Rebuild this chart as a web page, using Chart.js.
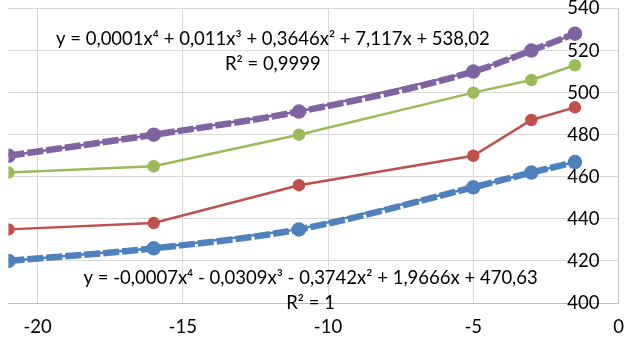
<!DOCTYPE html>
<html>
<head>
<meta charset="utf-8">
<script src="https://cdn.jsdelivr.net/npm/chart.js@4.4.1/dist/chart.umd.min.js"></script>
<style>
  html, body { margin: 0; padding: 0; background: #fff; }
  #wrap { width: 627px; height: 338px; }
</style>
</head>
<body>
<div id="wrap"><canvas id="chart"></canvas></div>
<script>
// x positions shared by all four series
const xValues = [-21, -16, -11, -5, -3, -1.5];

const purpleValues = [470, 480, 491, 510, 520, 528];
const greenValues = [462, 465, 480, 500, 506, 513];
const redValues = [435, 438, 456, 470, 487, 493];
const blueValues = [420, 426, 435, 455, 462, 467];

const xTicks = [-20, -15, -10, -5, 0];
const yTicks = [400, 420, 440, 460, 480, 500, 520, 540];

const purpleEquation = ['y = 0,0001x⁴ + 0,011x³ + 0,3646x² + 7,117x + 538,02', 'R² = 0,9999'];
const blueEquation = ['y = -0,0007x⁴ - 0,0309x³ - 0,3742x² + 1,9666x + 470,63', 'R² = 1'];

const PURPLE = '#8064A2';
const GREEN = '#9BBB59';
const RED = '#C0504D';
const BLUE = '#4F81BD';
const FONT = '18.5px Lato';

function toPoints(values) {
    return values.map((v, i) => ({ x: xValues[i], y: v }));
}

function seriesLine(values, color, width, radius) {
    return {
        data: toPoints(values),
        borderColor: color,
        backgroundColor: color,
        borderWidth: width,
        pointRadius: radius,
        pointHoverRadius: radius,
        showLine: true,
        tension: 0
    };
}

// polynomial trendline drawn as a smooth dashed curve through the points
function trendLine(values, color) {
    return {
        data: toPoints(values),
        borderColor: color,
        borderWidth: 6.5,
        borderDash: [16, 3],
        pointRadius: 0,
        showLine: true,
        cubicInterpolationMode: 'monotone'
    };
}

// tick labels drawn by hand: y labels sit inside the plot, left of the axis at x = 0
const tickLabels = {
    id: 'tickLabels',
    afterDraw(chart) {
        const ctx = chart.ctx;
        const area = chart.chartArea;
        const xs = chart.scales.x;
        const ys = chart.scales.y;
        ctx.save();
        ctx.font = FONT;
        ctx.fillStyle = '#000';
        ctx.textBaseline = 'middle';
        ctx.textAlign = 'right';
        yTicks.forEach(v => {
            ctx.fillText(String(v), area.right - 19, ys.getPixelForValue(v));
        });
        ctx.textAlign = 'center';
        xTicks.forEach(v => {
            ctx.fillText(String(v), xs.getPixelForValue(v), area.bottom + 24);
        });
        ctx.restore();
    }
};

// equation labels, anchored in data coordinates
const equationLabels = {
    id: 'equationLabels',
    afterDatasetsDraw(chart) {
        const ctx = chart.ctx;
        const xs = chart.scales.x;
        const ys = chart.scales.y;
        const labels = [
            { lines: purpleEquation, x: -11.9, y: 525.5 },
            { lines: blueEquation, x: -10.6, y: 412 }
        ];
        ctx.save();
        ctx.font = FONT;
        ctx.fillStyle = '#000';
        ctx.textAlign = 'center';
        ctx.textBaseline = 'middle';
        labels.forEach(label => {
            const px = xs.getPixelForValue(label.x);
            const py = ys.getPixelForValue(label.y);
            label.lines.forEach((line, i) => {
                ctx.fillText(line, px, py + i * 25);
            });
        });
        ctx.restore();
    }
};

const ctx = document.getElementById('chart').getContext('2d');
new Chart(ctx, {
    type: 'scatter',
    data: {
        datasets: [
            seriesLine(blueValues, BLUE, 2.5, 6),
            trendLine(blueValues, BLUE),
            seriesLine(redValues, RED, 2.5, 5),
            seriesLine(greenValues, GREEN, 2.5, 5),
            seriesLine(purpleValues, PURPLE, 2.5, 6),
            trendLine(purpleValues, PURPLE)
        ]
    },
    options: {
        responsive: true,
        maintainAspectRatio: false,
        animation: false,
        layout: { padding: { left: 5, right: 5, top: 7, bottom: 35 } },
        plugins: {
            legend: { display: false },
            tooltip: { enabled: false }
        },
        scales: {
            x: {
                type: 'linear',
                min: -21,
                max: 0,
                afterBuildTicks: axis => { axis.ticks = xTicks.map(v => ({ value: v })); },
                grid: { color: '#d9d9d9', lineWidth: 1, drawTicks: false },
                border: { color: '#bfbfbf' },
                ticks: { display: false }
            },
            y: {
                position: 'right',
                min: 400,
                max: 540,
                afterBuildTicks: axis => { axis.ticks = yTicks.map(v => ({ value: v })); },
                grid: { color: '#d9d9d9', lineWidth: 1, drawTicks: false },
                border: { color: '#bfbfbf' },
                ticks: { display: false }
            }
        }
    },
    plugins: [equationLabels, tickLabels]
});
</script>
</body>
</html>
